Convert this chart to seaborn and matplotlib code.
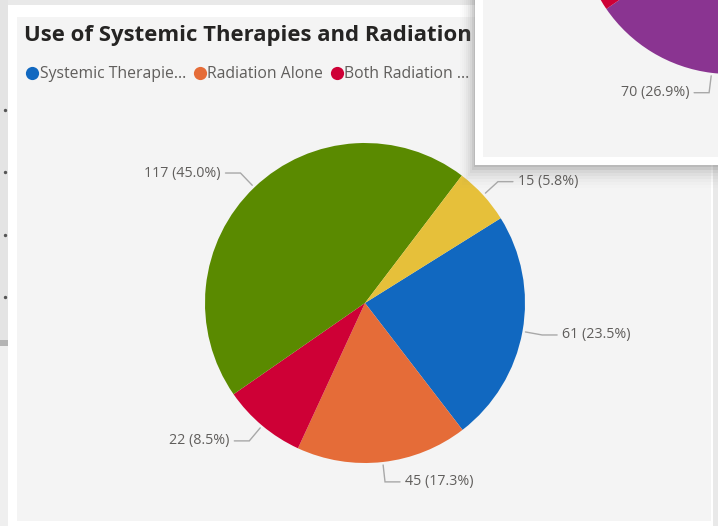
import matplotlib
matplotlib.use("Agg")
import matplotlib.pyplot as plt
from matplotlib.patches import Rectangle
from matplotlib.lines import Line2D
import numpy as np
import seaborn as sns

# main pie (total 260)
categories = ["Systemic Therapies", "Radiation Alone", "Both Radiation and Systemic",
              "Other", "Unknown"]
values = [61, 45, 22, 117, 15]
colors = ["#1168C0", "#E56C38", "#CE0036", "#5A8A00", "#E6C03A"]
legend_labels = ["Systemic Therapie...", "Radiation Alone", "Both Radiation ..."]
title = "Use of Systemic Therapies and Radiation"

# visible piece of the visual lying on top (same 260 total)
overlay_values = [70, 22]
overlay_colors = ["#8A3491", "#CE0036"]
overlay_total = 260

sns.set_style("white")
plt.rcParams["font.family"] = ["Open Sans", "DejaVu Sans"]

W, H = 718, 526
fig = plt.figure(figsize=(W / 100, H / 100), dpi=100)
fig.patch.set_facecolor("#ececec")

# one axes in pixel units, y pointing up (y = -row)
ax = fig.add_axes([0, 0, 1, 1])


def rect(x0, y0, x1, y1, color, z, alpha=1.0):
    ax.add_patch(Rectangle((x0, -y1), x1 - x0, y1 - y0, facecolor=color,
                           edgecolor="none", zorder=z, alpha=alpha))


# background pieces from the report page
rect(0, 0, W, H, "#e9e9e9", 0)
rect(0, 0, 8, 343, "#e4e4e4", 0.5)
rect(0, 340, 8, 346, "#b4b4b4", 0.6)
rect(0, 346, 8, H, "#efefef", 0.6)
ax.scatter([5, 5, 5, 5], [-110, -172, -235, -297], s=2, color="#555555", zorder=0.7)

# main visual: white frame and light grey plot area
rect(8, 5, 713, H, "white", 1)
rect(17, 17, 711, 521, "#f4f4f4", 1.1)

ax.text(24, -35, title, fontsize=15.9, fontweight="bold", color="#252423",
        va="center", ha="left", zorder=5)

handles = [Line2D([], [], marker="o", linestyle="none", markersize=9.5,
                  markerfacecolor=c, markeredgecolor="none") for c in colors[:3]]
leg = ax.legend(handles, legend_labels, loc="center left", ncol=3,
                bbox_to_anchor=(27 / W, 1 - 74 / H), frameon=False, fontsize=11.3,
                handlelength=0.7, handletextpad=0.1, columnspacing=0.55,
                borderpad=0, borderaxespad=0)
for t in leg.get_texts():
    t.set_color("#605e5c")
leg.set_zorder(5)

cx, cy, r = 365, -303, 160
wedges, _ = ax.pie(values, colors=colors, startangle=32, counterclock=False,
                   center=(cx, cy), radius=r, wedgeprops=dict(linewidth=0))
for w in wedges:
    w.set_zorder(3)

total = sum(values)


def leader(axis, wedge, value, tot, cx, cy, r, z):
    mid = np.deg2rad((wedge.theta1 + wedge.theta2) / 2)
    dx, dy = np.cos(mid), np.sin(mid)
    side = 1 if dx >= 0 else -1
    p0 = (cx + (r + 3) * dx, cy + (r + 3) * dy)
    p1 = (cx + (r + 20) * dx, cy + (r + 20) * dy)
    p2 = (p1[0] + side * 15, p1[1])
    axis.plot([p0[0], p1[0], p2[0]], [p0[1], p1[1], p2[1]], color="#a8a8a8",
              lw=1, zorder=z, solid_joinstyle="miter")
    axis.text(p2[0] + side * 5, p2[1], f"{value} ({value / tot * 100:.1f}%)",
              ha="left" if side > 0 else "right", va="center", fontsize=10.3,
              color="#605e5c", zorder=z)


for w, v in zip(wedges, values):
    leader(ax, w, v, total, cx, cy, r, 12)

# visual lying on top in the upper right: soft shadow + white frame
for i, a in enumerate([0.22, 0.15, 0.1, 0.07, 0.05, 0.035, 0.025, 0.015]):
    rect(474 - 2 * i, 0, W, 167 + 3 * i, "#8a8a8a", 8, alpha=a)
rect(475, 0, W, 165, "white", 10)

ax.set_xlim(0, W)
ax.set_ylim(-H, 0)
ax.set_aspect("auto")
ax.axis("off")

# inner area of the top visual, its pie clipped to the panel
x0, x1, y1 = 483, W, 157
ax2 = fig.add_axes([x0 / W, 1 - y1 / H, (x1 - x0) / W, y1 / H])
ax2.set_facecolor("#f4f4f4")
ocx, ocy, orad = 730, 76, 150
ow, _ = ax2.pie([v / overlay_total for v in overlay_values], colors=overlay_colors,
                normalize=False, startangle=311.4, counterclock=False,
                center=(ocx, ocy), radius=orad, wedgeprops=dict(linewidth=0),
                frame=True)
for w in ow:
    w.set_clip_on(True)
leader(ax2, ow[0], overlay_values[0], overlay_total, ocx, ocy, orad, 5)
ax2.set_xlim(x0, x1)
ax2.set_ylim(-y1, 0)
ax2.set_aspect("auto")
ax2.set_xticks([])
ax2.set_yticks([])
for s in ax2.spines.values():
    s.set_visible(False)

fig.savefig("out.png", dpi=100)
